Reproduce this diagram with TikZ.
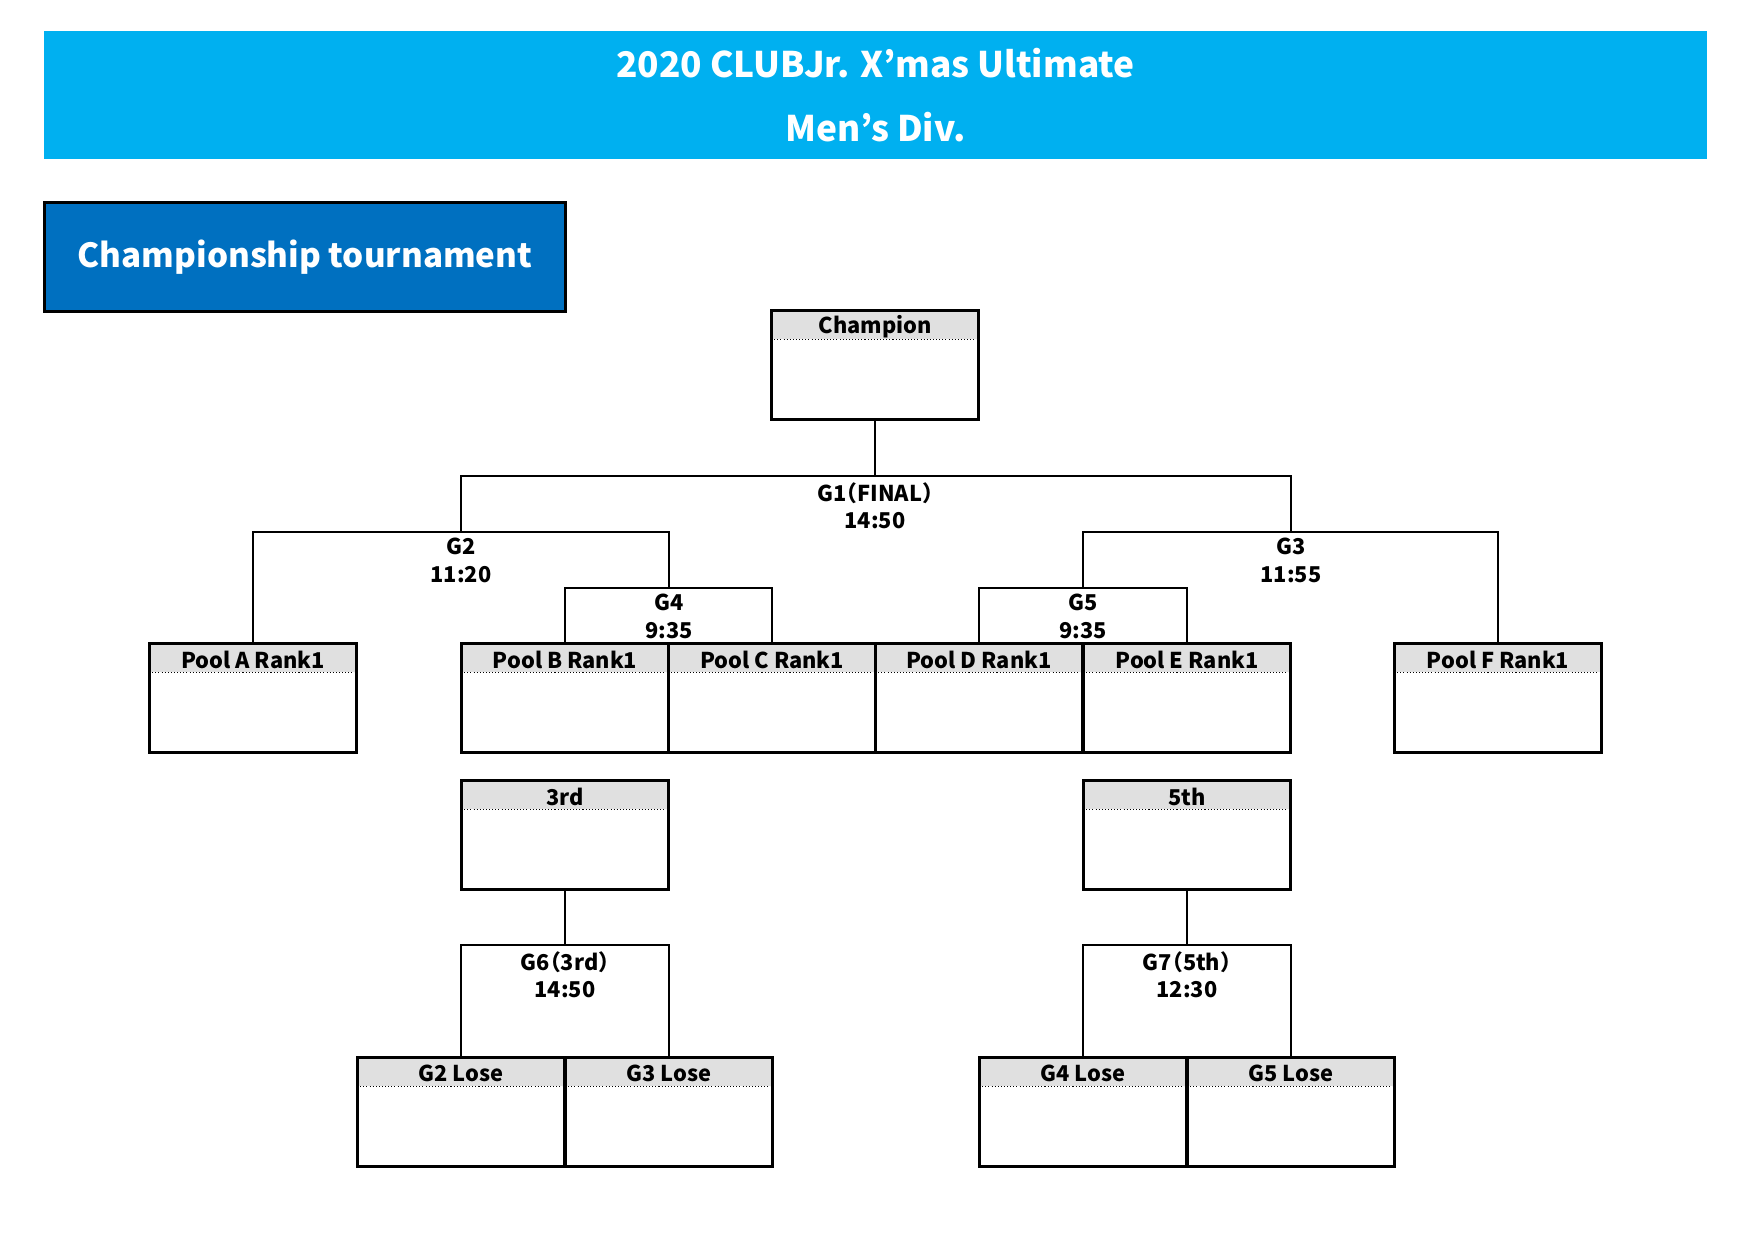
\documentclass[tikz,border=0pt]{standalone}
\usepackage{fontspec}
\setmainfont{Noto Sans CJK JP}
\usetikzlibrary{positioning}
\definecolor{bannerblue}{HTML}{00B0F0}
\definecolor{titleblue}{HTML}{0070C0}
\definecolor{headgray}{HTML}{E0E0E0}

\begin{document}
\begin{tikzpicture}[
    x=0.01694cm, y=-0.01694cm,
    slot/.style={draw, line width=1.5pt, minimum width=3.52cm, minimum height=1.85cm, inner sep=0pt,
        path picture={
            \fill[headgray] (path picture bounding box.north west) rectangle ([yshift=-0.49cm]path picture bounding box.north east);
            \draw[densely dotted, line width=0.5pt] ([yshift=-0.49cm]path picture bounding box.north west) -- ([yshift=-0.49cm]path picture bounding box.north east);
        },
        label={[anchor=north, inner sep=0pt, yshift=-1.5pt, minimum height=0.49cm, font=\bfseries\fontsize{10.5}{13}\selectfont]north:#1}},
    wire/.style={line width=0.6pt},
    game/.style={anchor=north, align=center, inner sep=2.8pt, font=\bfseries\fontsize{10.5}{13.4}\selectfont\addfontfeature{RawFeature=+halt}}
]
    \useasboundingbox (0,0) rectangle (1753,1240);

    % Header
    \node[fill=bannerblue, minimum width=28.15cm, minimum height=2.17cm, align=center, text=white,
          font=\bfseries\fontsize{17}{31}\selectfont] (banner) at (875.5,95) {2020 CLUBJr. X’mas Ultimate\\Men’s Div.};
    \node[draw, line width=1.5pt, fill=titleblue, minimum width=8.81cm, minimum height=1.85cm, text=white,
          font=\bfseries\fontsize{16}{19}\selectfont] (section) at (305,257) {Championship tournament};

    % Boxes
    \node[slot=Champion] (champ) at (875,365) {};
    \node[slot=Pool A Rank1] (poolA) at (253,698) {};
    \node[slot=Pool B Rank1] (poolB) at (565,698) {};
    \node[slot=Pool C Rank1] (poolC) at (772,698) {};
    \node[slot=Pool D Rank1] (poolD) at (979,698) {};
    \node[slot=Pool E Rank1] (poolE) at (1187,698) {};
    \node[slot=Pool F Rank1] (poolF) at (1498,698) {};
    \node[slot=3rd] (third) at (565,835) {};
    \node[slot=5th] (fifth) at (1187,835) {};
    \node[slot=G2 Lose] (lose2) at (461,1112) {};
    \node[slot=G3 Lose] (lose3) at (669,1112) {};
    \node[slot=G4 Lose] (lose4) at (1083,1112) {};
    \node[slot=G5 Lose] (lose5) at (1291,1112) {};

    % Games
    \coordinate (g1) at (875,476);
    \coordinate (g2) at (461,532);
    \coordinate (g3) at (1291,532);
    \coordinate (g4) at (669,588);
    \coordinate (g5) at (1083,588);
    \coordinate (g6) at (565,945);
    \coordinate (g7) at (1187,945);
    \node[game] (t1) at (g1) {G1（FINAL）\\14:50};
    \node[game] (t2) at (g2) {G2\\11:20};
    \node[game] (t3) at (g3) {G3\\11:55};
    \node[game] (t4) at (g4) {G4\\9:35};
    \node[game] (t5) at (g5) {G5\\9:35};
    \node[game] (t6) at (g6) {G6（3rd）\\14:50};
    \node[game] (t7) at (g7) {G7（5th）\\12:30};

    % Brackets
    \draw[wire] (champ) -- (g1);
    \draw[wire] (g2) |- (g1) -| (g3);
    \draw[wire] (poolA) |- (g2) -| (g4);
    \draw[wire] (g5) |- (g3) -| (poolF);
    \draw[wire] (poolB) |- (g4) -| (poolC);
    \draw[wire] (poolD) |- (g5) -| (poolE);
    \draw[wire] (third) -- (g6);
    \draw[wire] (lose2) |- (g6) -| (lose3);
    \draw[wire] (fifth) -- (g7);
    \draw[wire] (lose4) |- (g7) -| (lose5);
\end{tikzpicture}
\end{document}
